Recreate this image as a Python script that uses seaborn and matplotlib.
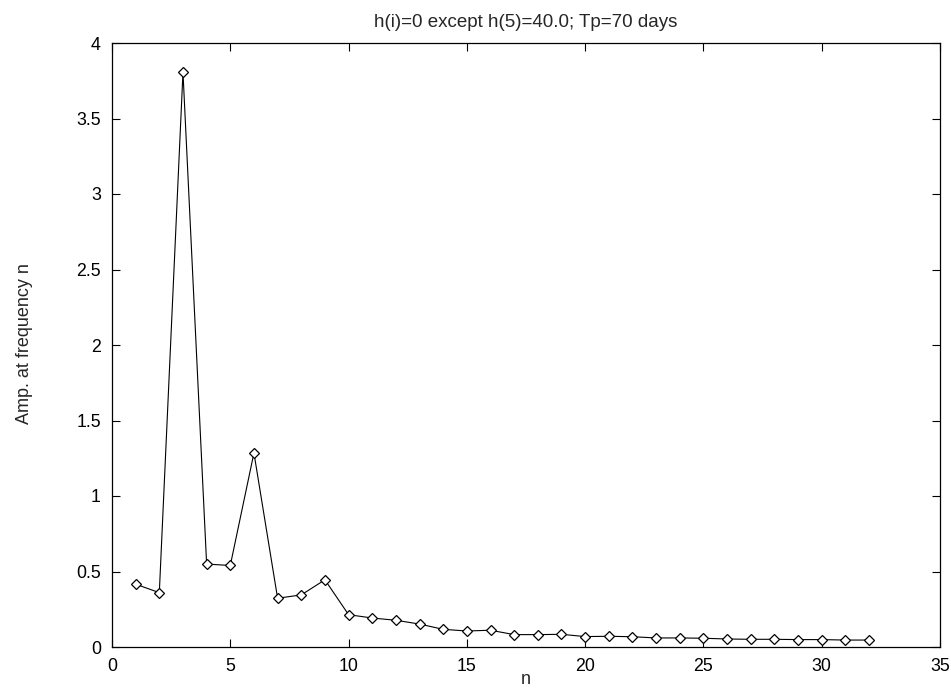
import matplotlib
matplotlib.use("Agg")
import matplotlib.pyplot as plt
import seaborn as sns
import pandas as pd

# Harmonic index and amplitude at each frequency
n_values = list(range(1, 33))
amplitudes = [0.416, 0.36, 3.807, 0.549, 0.54, 1.285, 0.323, 0.345, 0.445, 0.214,
              0.192, 0.177, 0.152, 0.117, 0.106, 0.111, 0.082, 0.082, 0.084, 0.069,
              0.071, 0.068, 0.06, 0.06, 0.058, 0.053, 0.051, 0.051, 0.049, 0.049,
              0.046, 0.046]

title_text = "h(i)=0 except h(5)=40.0; Tp=70 days"
x_label = "n"
y_label = "Amp. at frequency n"
x_ticks = [0, 5, 10, 15, 20, 25, 30, 35]
y_ticks = [0, 0.5, 1, 1.5, 2, 2.5, 3, 3.5, 4]
y_tick_labels = ["0", "0.5", "1", "1.5", "2", "2.5", "3", "3.5", "4"]

df = pd.DataFrame({"n": n_values, "amp": amplitudes})

sns.set_theme(style="ticks")
plt.rcParams["font.family"] = ["Liberation Sans", "DejaVu Sans"]

fig = plt.figure(figsize=(9.51, 6.89), dpi=100)
ax = fig.add_axes([112 / 951, 42 / 689, 828 / 951, 604 / 689])

sns.lineplot(data=df, x="n", y="amp", ax=ax, color="black", linewidth=0.8,
             marker="D", markersize=5.2, markerfacecolor="white",
             markeredgecolor="black", markeredgewidth=0.9)

ax.set_xlim(0, 35)
ax.set_ylim(0, 4)
ax.set_xticks(x_ticks)
ax.set_xticklabels([str(t) for t in x_ticks])
ax.set_yticks(y_ticks)
ax.set_yticklabels(y_tick_labels)

ax.tick_params(direction="in", length=6, width=0.8, top=True, right=True,
               labelsize=12.8, colors="black", pad=8)
for side in ax.spines.values():
    side.set_visible(True)
    side.set_linewidth(0.9)
    side.set_color("black")

ax.set_title(title_text, fontsize=13.5, pad=11.5)
ax.set_xlabel(x_label, fontsize=13, va="baseline")
ax.xaxis.set_label_coords(0.5, -37 / 604)
ax.set_ylabel(y_label, fontsize=13)
ax.yaxis.set_label_coords(-79 / 828, 0.503)

fig.savefig("out.png", dpi=100)
